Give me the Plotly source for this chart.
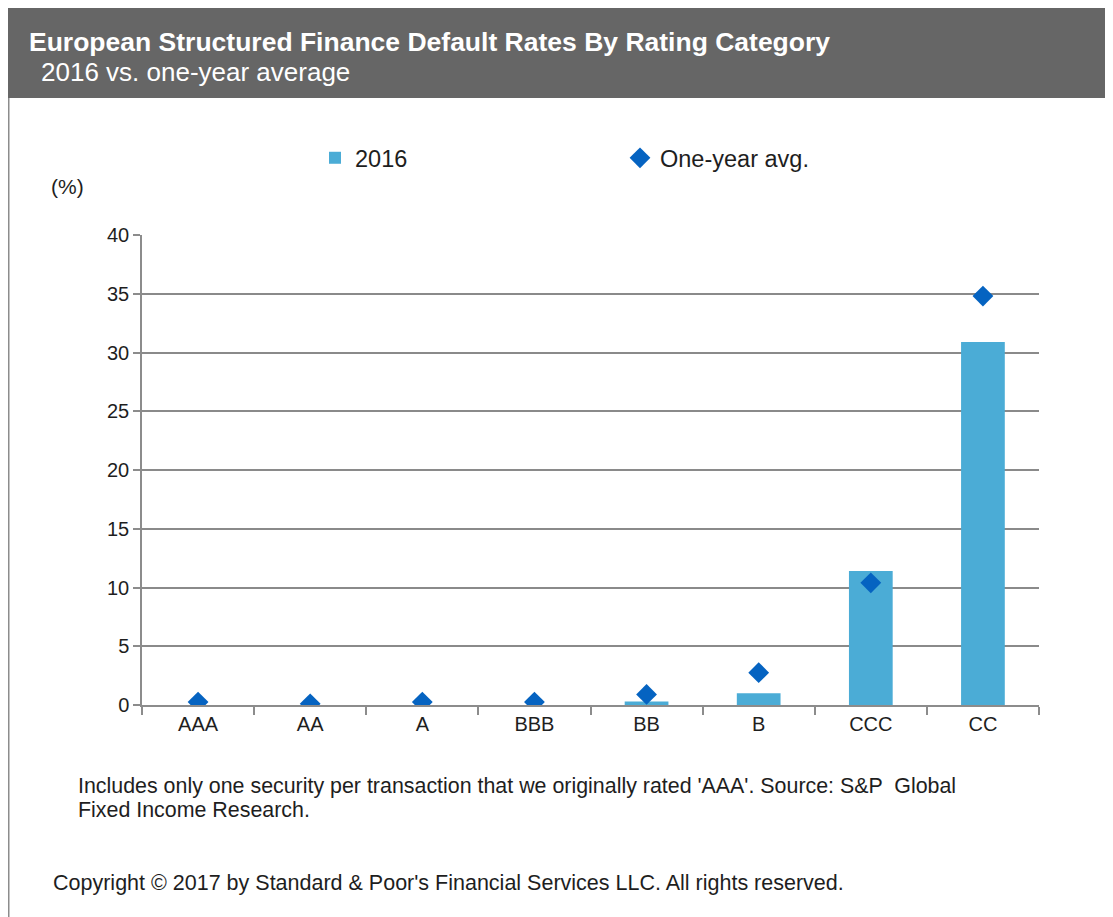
import plotly.graph_objects as go

categories = ["AAA", "AA", "A", "BBB", "BB", "B", "CCC", "CC"]
rate_2016 = [0, 0, 0, 0, 0.3, 1.0, 11.4, 30.9]
one_year_avg = [0.25, 0.1, 0.25, 0.25, 0.9, 2.75, 10.4, 34.8]
y_ticks = [0, 5, 10, 15, 20, 25, 30, 35, 40]

# page has an 8px body margin; figure coordinates = reference - 8
W, H = 1105, 909
L, T = 134, 227
PLOT_R, PLOT_B = 1031, 697
R, B = W - PLOT_R, H - PLOT_B
PW, PH = PLOT_R - L, PLOT_B - T

def px2x(px):
    return (px - L) / PW

def px2y(py):
    return (PLOT_B - py) / PH

FONT = "Liberation Sans, Arial, sans-serif"
TXT = "#1e1e1e"

fig = go.Figure()
fig.add_trace(go.Bar(
    x=categories, y=rate_2016, name="2016",
    marker=dict(color="#4BACD6", line=dict(width=0)),
))
fig.add_trace(go.Scatter(
    x=categories, y=one_year_avg, name="One-year avg.", mode="markers",
    marker=dict(symbol="diamond", size=16, color="#0563C1"),
))

shapes = [
    dict(type="rect", xref="paper", yref="paper", x0=px2x(0), x1=px2x(W),
         y0=px2y(90), y1=px2y(0), fillcolor="#666666", line=dict(width=0), layer="below"),
    dict(type="line", xref="paper", yref="paper", x0=px2x(0.75), x1=px2x(0.75),
         y0=px2y(90), y1=px2y(H), line=dict(color="#8c8c8c", width=1.5)),
]

annotations = [
    dict(text="<b>European Structured Finance Default Rates By Rating Category</b>",
         xref="paper", yref="paper", x=px2x(19), y=px2y(34), xanchor="left", yanchor="middle",
         showarrow=False, font=dict(family=FONT, size=26.5, color="white")),
    dict(text="2016 vs. one-year average",
         xref="paper", yref="paper", x=px2x(31), y=px2y(64), xanchor="left", yanchor="middle",
         showarrow=False, font=dict(family=FONT, size=26, color="white")),
    dict(text="(%)", xref="paper", yref="paper", x=px2x(41), y=px2y(178),
         xanchor="left", yanchor="middle", showarrow=False,
         font=dict(family=FONT, size=21, color=TXT)),
    dict(text="Includes only one security per transaction that we originally rated 'AAA'. Source: S&P  Global",
         xref="paper", yref="paper", x=px2x(68), y=px2y(778), xanchor="left", yanchor="middle",
         align="left", showarrow=False, font=dict(family=FONT, size=21.4, color=TXT)),
    dict(text="Fixed Income Research.",
         xref="paper", yref="paper", x=px2x(68), y=px2y(802), xanchor="left", yanchor="middle",
         align="left", showarrow=False, font=dict(family=FONT, size=21.4, color=TXT)),
    dict(text="Copyright © 2017 by Standard & Poor's Financial Services LLC. All rights reserved.",
         xref="paper", yref="paper", x=px2x(43), y=px2y(875), xanchor="left", yanchor="middle",
         showarrow=False, font=dict(family=FONT, size=21.5, color=TXT)),
]

fig.update_layout(
    width=W, height=H,
    margin=dict(l=L, r=R, t=T, b=B, pad=0),
    paper_bgcolor="white", plot_bgcolor="white",
    font=dict(family=FONT, size=20, color=TXT),
    bargap=0.61,
    showlegend=True,
    legend=dict(orientation="h", x=px2x(307), y=px2y(150), xanchor="left", yanchor="middle",
                entrywidth=260, entrywidthmode="pixels", itemwidth=30,
                font=dict(family=FONT, size=23.5, color=TXT), bgcolor="rgba(0,0,0,0)"),
    shapes=shapes,
    annotations=annotations,
    xaxis=dict(showline=True, linecolor="#8c8c8c", linewidth=1.5, ticks="outside",
               tickson="boundaries", ticklen=8, tickcolor="#8c8c8c", tickwidth=1.5,
               showgrid=False, tickfont=dict(size=20), fixedrange=True),
    yaxis=dict(range=[0, 40], tickvals=y_ticks, showline=True, linecolor="#8c8c8c",
               linewidth=1.5, ticks="outside", ticklen=7, tickcolor="#8c8c8c", tickwidth=1.5,
               showgrid=True, gridcolor="#8a8a8a", gridwidth=1.5, zeroline=False,
               tickfont=dict(size=20), ticklabelstandoff=0),
)

fig.write_html("out.html")
